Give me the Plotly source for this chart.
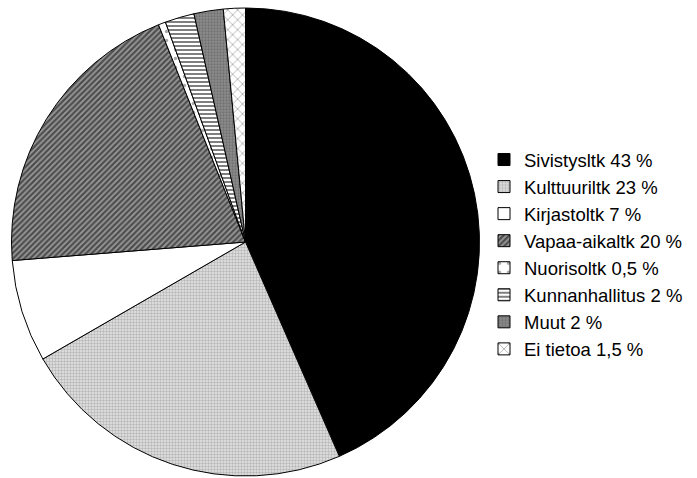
import plotly.graph_objects as go

# Share of funding by committee
labels = ["Sivistysltk", "Kulttuuriltk", "Kirjastoltk", "Vapaa-aikaltk",
          "Nuorisoltk", "Kunnanhallitus", "Muut", "Ei tietoa"]
value_labels = ["43", "23", "7", "20", "0,5", "2", "2", "1,5"]
values = [43, 23, 7, 20, 0.5, 2, 2, 1.5]

# Fill styles for each slice (monochrome hatches)
fill_colors = ["black", "#e6e6e6", "white", "#9a9a9a", "white", "white", "#8c8c8c", "white"]
shapes = ["", ".", "", "/", ".", "-", ".", "x"]
fg_colors = ["black", "#888888", "black", "black", "#555555", "black", "#555555", "black"]
sizes = [4, 3, 4, 4, 9, 4, 3, 7]
solidities = [0.3, 0.5, 0.3, 0.55, 0.12, 0.5, 0.45, 0.15]

legend_text = [f"{n} {v} %" for n, v in zip(labels, value_labels)]

W, H = 697, 478
cx, cy, r = 245.5, 242, 234

fig = go.Figure(go.Pie(
    labels=legend_text,
    values=values,
    sort=False,
    direction="clockwise",
    rotation=0,
    textinfo="none",
    hoverinfo="label",
    marker=dict(
        colors=fill_colors,
        line=dict(color="black", width=1),
        pattern=dict(shape=shapes, fgcolor=fg_colors, bgcolor=fill_colors,
                     size=sizes, solidity=solidities, fillmode="overlay"),
    ),
    domain=dict(x=[(cx - r) / W, (cx + r) / W],
                y=[(H - cy - r) / H, (H - cy + r) / H]),
))

fig.update_layout(
    width=W, height=H,
    margin=dict(l=0, r=0, t=0, b=0),
    paper_bgcolor="white",
    plot_bgcolor="white",
    font=dict(family="Liberation Sans, Arial, sans-serif", color="black"),
    legend=dict(
        x=484 / W, y=1 - 141 / H, xanchor="left", yanchor="top",
        font=dict(size=18.5, color="black"),
        bgcolor="rgba(0,0,0,0)",
        itemwidth=30,
    ),
    showlegend=True,
)

fig.write_html("out.html")
